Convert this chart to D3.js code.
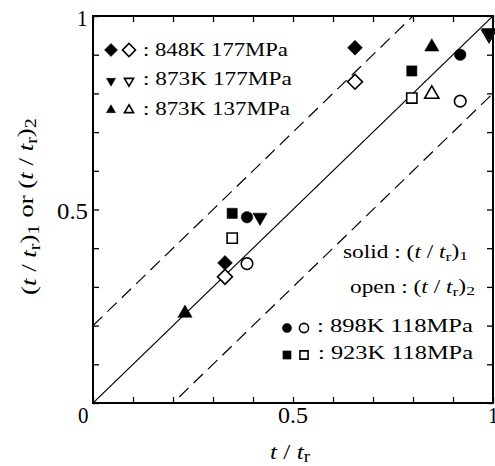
<!DOCTYPE html>
<html><head><meta charset="utf-8">
<script src="https://cdn.jsdelivr.net/npm/d3@7"></script>
<style>body{margin:0;background:#fff}svg{display:block}text{font-family:"Liberation Serif","Times New Roman",serif;fill:#000}</style>
</head><body>
<script>
// ---- data ----
const seriesNames = ["848K 177MPa","873K 177MPa","873K 137MPa","898K 118MPa","923K 118MPa"];
const seriesShapes = ["diamond","down","up","circle","square"];
const xVals  = [[0.33,0.655],[0.4175,0.99],[0.23,0.847],[0.385,0.918],[0.348,0.797]];
const y1Vals = [[0.362,0.918],[0.48,0.957],[0.232,0.92],[0.48,0.90],[0.49,0.858]];
const y2Vals = [[0.326,0.83],[null,0.953],[null,0.798],[0.36,0.78],[0.426,0.788]];
const tickVals = [0,0.1,0.2,0.3,0.4,0.5,0.6,0.7,0.8,0.9,1];
const tickLabels = {0:"0",0.5:"0.5",1:"1"};
const refLines = [{b:0,dash:false},{b:0.2,dash:true},{b:-0.2,dash:true}];

const W=495,H=466;
const svg=d3.select("body").append("svg").attr("width",W).attr("height",H);
const x=d3.scaleLinear().domain([0,1]).range([93,493]);
const y=d3.scaleLinear().domain([0,1]).range([403,16]);

svg.append("clipPath").attr("id","c").append("rect")
  .attr("x",93).attr("y",16).attr("width",400).attr("height",387);

// reference lines
const gl=svg.append("g").attr("clip-path","url(#c)");
refLines.forEach(r=>{
  gl.append("line").attr("x1",x(0)).attr("y1",y(0+r.b)).attr("x2",x(1)).attr("y2",y(1+r.b))
    .attr("stroke","#000").attr("stroke-width",1.2)
    .attr("stroke-dasharray",r.dash?"13,7":null);
});

// axes with inward ticks
function ax(gen,tr){
  const g=svg.append("g").attr("transform",tr).call(gen.tickValues(tickVals).tickSize(-6).tickFormat(""));
  g.select(".domain").remove();
  g.selectAll("line").attr("stroke","#000").attr("stroke-width",1.3);
  return g;
}
ax(d3.axisBottom(x),`translate(0,403)`);
ax(d3.axisTop(x),`translate(0,16)`);
ax(d3.axisLeft(y),`translate(93,0)`);
ax(d3.axisRight(y),`translate(493,0)`);
svg.append("rect").attr("x",93).attr("y",16).attr("width",400).attr("height",387)
  .attr("fill","none").attr("stroke","#000").attr("stroke-width",2);

// text fitted to a given start point and width (wide serif look of the reference)
function fitText(x0,y0,width,size,build,rot){
  const g=svg.append("g");
  const t=g.append("text").attr("x",0).attr("y",0).attr("font-size",size);
  build(t);
  const w=t.node().getComputedTextLength();
  const sx=width/w;
  g.attr("transform",`translate(${x0},${y0})${rot?` rotate(${rot})`:""} scale(${sx},1)`);
  return g;
}
const plain=s=>t=>t.text(s);

// tick labels
fitText(x(0.5)-15,423,30,23,plain(tickLabels[0.5]));
fitText(x(1)-5,423,10.5,23,plain(tickLabels[1]));
fitText(78,423,10.5,23,plain(tickLabels[0]));
fitText(57,218.5,31,23,plain(tickLabels[0.5]));
fitText(77,26,10.5,23,plain(tickLabels[1]));

// symbols
function sym(shape,size){
  if(shape==="diamond") return {d:d3.symbol(d3.symbolSquare,size)(),rot:45};
  if(shape==="up") return {d:d3.symbol(d3.symbolTriangle,size*0.8)(),rot:0};
  if(shape==="down") return {d:d3.symbol(d3.symbolTriangle,size*0.8)(),rot:180};
  if(shape==="circle") return {d:d3.symbol(d3.symbolCircle,size*0.95)(),rot:0};
  return {d:d3.symbol(d3.symbolSquare,size*0.95)(),rot:0};
}
function drawSym(cx,cy,shape,filled,size){
  const s=sym(shape,size);
  svg.append("path").attr("d",s.d).attr("transform",`translate(${cx},${cy}) rotate(${s.rot})`)
    .attr("fill",filled?"#000":"#fff").attr("stroke","#000").attr("stroke-width",filled?0.5:1.6);
}
seriesNames.forEach((n,i)=>{
  xVals[i].forEach((xv,j)=>{
    if(y2Vals[i][j]!=null) drawSym(x(xv),y(y2Vals[i][j]),seriesShapes[i],false,110);
  });
  xVals[i].forEach((xv,j)=>{
    if(y1Vals[i][j]!=null) drawSym(x(xv),y(y1Vals[i][j]),seriesShapes[i],true,110);
  });
});

// legends
const lfs=18;
const topLeg=[0,1,2], topY=[50,81,110], topBase=[56,85,115], topW=[145,149,147];
topLeg.forEach((i,k)=>{
  drawSym(111,topY[k],seriesShapes[i],true,i===0?85:45);
  drawSym(129,topY[k],seriesShapes[i],false,i===0?85:45);
  fitText(143,topBase[k],topW[k],lfs,plain(": "+seriesNames[i]));
});
const botLeg=[3,4], botY=[328,355], botBase=[332,359], botX=[317,318], botW=[156,155];
botLeg.forEach((i,k)=>{
  drawSym(287,botY[k],seriesShapes[i],true,70);
  drawSym(304,botY[k],seriesShapes[i],false,70);
  fitText(botX[k],botBase[k],botW[k],lfs,plain(": "+seriesNames[i]));
});
function ratio(prefix,sub,mid){
  return t=>{
    if(prefix) t.append("tspan").text(prefix);
    t.append("tspan").text("(");
    t.append("tspan").attr("font-style","italic").text("t");
    t.append("tspan").text(" / ");
    t.append("tspan").attr("font-style","italic").text("t");
    t.append("tspan").attr("font-size","0.75em").attr("dy","0.25em").text("r");
    t.append("tspan").attr("dy","-0.25em").text(")");
    t.append("tspan").attr("font-size","0.75em").attr("dy","0.25em").text(sub);
    if(mid){
      t.append("tspan").attr("dy","-0.25em").text(" or (");
      t.append("tspan").attr("font-style","italic").text("t");
      t.append("tspan").text(" / ");
      t.append("tspan").attr("font-style","italic").text("t");
      t.append("tspan").attr("font-size","0.75em").attr("dy","0.25em").text("r");
      t.append("tspan").attr("dy","-0.25em").text(")");
      t.append("tspan").attr("font-size","0.75em").attr("dy","0.25em").text("2");
    }
  };
}
fitText(343,258,125,lfs,ratio("solid : ","1"));
fitText(350,293,125,lfs,ratio("open : ","2"));

// axis titles
fitText(270,459,40,22,t=>{
  t.append("tspan").attr("font-style","italic").text("t");
  t.append("tspan").text(" / ");
  t.append("tspan").attr("font-style","italic").text("t");
  t.append("tspan").attr("font-size","0.75em").attr("dy","0.2em").text("r");
});
fitText(36,295,177,22,ratio(null,"1",true),-90);
</script>
</body></html>
